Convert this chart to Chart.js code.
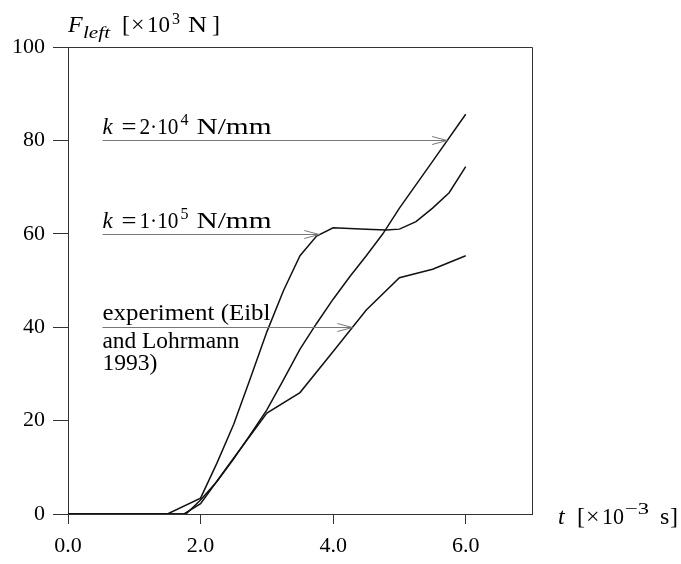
<!DOCTYPE html>
<html>
<head>
<meta charset="utf-8">
<script src="https://cdn.jsdelivr.net/npm/chart.js@4.4.1/dist/chart.umd.min.js"></script>
<style>
  html, body { margin: 0; padding: 0; background: #fff; }
  #wrap { width: 681px; height: 564px; }
</style>
</head>
<body>
<div id="wrap"><canvas id="c" width="681" height="564"></canvas></div>
<script>
// ---- data (t in 10^-3 s, F in 10^3 N) ----
const tK1e5 = [0, 1.5, 2.0, 2.25, 2.5, 2.75, 3.0, 3.25, 3.5, 3.75, 4.0, 4.5, 4.8, 5.0, 5.25, 5.5, 5.75, 6.0];
const fK1e5 = [0, 0, 3.4, 11, 19.2, 29, 39, 47.8, 55.3, 59.5, 61.3, 61.0, 60.8, 61.0, 62.6, 65.5, 68.8, 74.4];

const tK2e4 = [0, 1.78, 2.0, 2.25, 2.5, 2.75, 3.0, 3.25, 3.5, 3.75, 4.0, 4.25, 4.5, 4.75, 5.0, 5.5, 6.0];
const fK2e4 = [0, 0, 3.0, 7.0, 11.8, 17, 22.3, 28.7, 35.3, 40.8, 46, 50.8, 55.3, 60, 65.5, 75.5, 85.6];

const tExp = [0, 1.75, 2.0, 2.5, 3.0, 3.5, 4.0, 4.5, 5.0, 5.5, 6.0];
const fExp = [0, 0, 2.2, 12, 21.6, 26, 34.8, 43.7, 50.6, 52.4, 55.3];

const xTicks = [0, 2, 4, 6];
const xTickLabels = ["0.0", "2.0", "4.0", "6.0"];
const yTicks = [0, 20, 40, 60, 80, 100];

// annotations: arrow level (F), arrow start t, arrow end t
const annLevels = [80, 60, 40];
const annStart = [0.52, 0.52, 0.52];
const annEnd = [5.72, 3.79, 4.29];

const SERIF = "'Liberation Serif', 'Times New Roman', serif";

function pts(ts, fs) { return ts.map((t, i) => ({ x: t, y: fs[i] })); }

// parts: {t, italic, size, dy, x (offset from origin), w (target width)}
function drawRich(ctx, parts, x, y, baseSize) {
  let cx = x;
  for (const p of parts) {
    const size = p.size || baseSize || 22;
    ctx.font = (p.italic ? 'italic ' : '') + size + 'px ' + SERIF;
    if (p.x !== undefined) cx = x + p.x;
    const mw = ctx.measureText(p.t).width;
    const sx = p.w ? p.w / mw : 1;
    ctx.save();
    ctx.translate(cx, y + (p.dy || 0));
    ctx.scale(sx, 1);
    ctx.fillText(p.t, 0, 0);
    ctx.restore();
    cx += mw * sx;
  }
  return cx;
}

const overlay = {
  id: 'overlay',
  afterDraw(chart) {
    const ctx = chart.ctx;
    const a = chart.chartArea;
    const xs = chart.scales.x, ys = chart.scales.y;
    ctx.save();
    // top and right frame
    ctx.strokeStyle = '#333';
    ctx.lineWidth = 1;
    ctx.beginPath();
    ctx.moveTo(a.left, Math.round(a.top) + 0.5);
    ctx.lineTo(Math.round(a.right) + 0.5, Math.round(a.top) + 0.5);
    ctx.lineTo(Math.round(a.right) + 0.5, a.bottom);
    ctx.stroke();

    ctx.fillStyle = '#000';
    ctx.textBaseline = 'alphabetic';
    ctx.textAlign = 'left';
    // y-axis title
    drawRich(ctx, [
      { t: 'F', italic: true, x: 0 },
      { t: 'left', italic: true, size: 16, dy: 6, x: 15, w: 27 },
      { t: '[', x: 54 },
      { t: '\u00d7', x: 63 },
      { t: '10', x: 79, w: 23 },
      { t: '3', size: 16, dy: -8, x: 104 },
      { t: 'N', x: 120, w: 19 },
      { t: ']', x: 144 }
    ], 68, 32, 24);
    // x-axis title
    drawRich(ctx, [
      { t: 't', italic: true, x: 0 },
      { t: '[', x: 19 },
      { t: '\u00d7', x: 28 },
      { t: '10', x: 44, w: 22 },
      { t: '\u22123', size: 16, dy: -10, x: 67, w: 24 },
      { t: 's', x: 102 },
      { t: ']', x: 112 }
    ], 558, 524, 24);

    // annotations
    const kLabel = (d) => [
      { t: 'k', italic: true, x: 0 },
      { t: '=', x: 19, w: 15 },
      { t: d + '\u00b710', x: 37, w: 39 },
      { t: d === '2' ? '4' : '5', size: 16, dy: -9, x: 78 },
      { t: 'N/mm', x: 94, w: 75 }
    ];
    const labels = [
      [kLabel('2')],
      [kLabel('1')],
      [[{ t: 'experiment (Eibl', w: 168 }], [{ t: 'and Lohrmann', w: 137 }], [{ t: '1993)', w: 55 }]]
    ];
    const baseOff = [[-7], [-7], [-8, 20, 42]];
    for (let i = 0; i < annLevels.length; i++) {
      const yy = Math.round(ys.getPixelForValue(annLevels[i])) + 0.5;
      const x0 = xs.getPixelForValue(annStart[i]);
      const x1 = xs.getPixelForValue(annEnd[i]);
      labels[i].forEach((line, j) => drawRich(ctx, line, x0, yy + baseOff[i][j], 23));
      ctx.strokeStyle = '#777';
      ctx.lineWidth = 1;
      ctx.beginPath();
      ctx.moveTo(x0, yy);
      ctx.lineTo(x1, yy);
      ctx.moveTo(x1 - 15, yy - 4);
      ctx.lineTo(x1, yy);
      ctx.lineTo(x1 - 15, yy + 4);
      ctx.stroke();
    }
    ctx.restore();
  }
};

const lineStyle = { borderColor: '#111', borderWidth: 1.5, pointRadius: 0, fill: false, tension: 0 };

new Chart(document.getElementById('c'), {
  type: 'line',
  data: {
    datasets: [
      Object.assign({ label: 'k = 1e5 N/mm', data: pts(tK1e5, fK1e5) }, lineStyle),
      Object.assign({ label: 'k = 2e4 N/mm', data: pts(tK2e4, fK2e4) }, lineStyle),
      Object.assign({ label: 'experiment', data: pts(tExp, fExp) }, lineStyle)
    ]
  },
  options: {
    responsive: false,
    animation: false,
    devicePixelRatio: 1,
    layout: { padding: { left: 0, top: 47, right: 149, bottom: 0 } },
    plugins: { legend: { display: false }, tooltip: { enabled: false } },
    scales: {
      x: {
        type: 'linear', min: 0, max: 7,
        afterBuildTicks(s) { s.ticks = xTicks.map(v => ({ value: v })); },
        afterFit(s) { s.height = 50; },
        ticks: {
          color: '#000', padding: 9, maxRotation: 0,
          font: { family: SERIF, size: 22 },
          callback: (v) => { const k = xTicks.indexOf(v); return k >= 0 ? xTickLabels[k] : ''; }
        },
        grid: { drawOnChartArea: false, drawTicks: true, tickLength: 10, color: '#333' },
        border: { color: '#333', width: 1 }
      },
      y: {
        type: 'linear', min: 0, max: 100,
        afterBuildTicks(s) { s.ticks = yTicks.map(v => ({ value: v })); },
        afterFit(s) { s.width = 68; },
        ticks: { color: '#000', padding: 8, font: { family: SERIF, size: 22 } },
        grid: { drawOnChartArea: false, drawTicks: true, tickLength: 15, color: '#333' },
        border: { color: '#333', width: 1 }
      }
    }
  },
  plugins: [overlay]
});
</script>
</body>
</html>
